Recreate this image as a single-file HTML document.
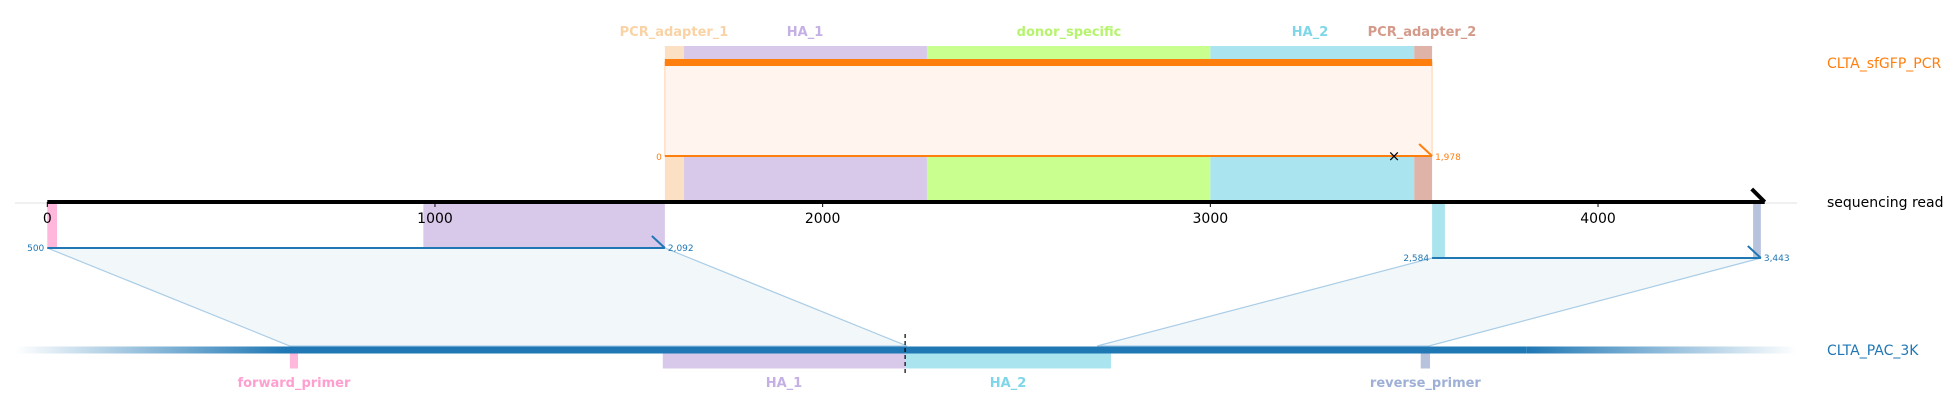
<!DOCTYPE html>
<html><head><meta charset="utf-8"><style>
html,body{margin:0;padding:0;background:#fff;}
svg{display:block;font-family:"DejaVu Sans","Liberation Sans",sans-serif;}
</style></head><body>
<svg id="chart" width="1953" height="415" viewBox="0 0 1953 415" xmlns="http://www.w3.org/2000/svg">
<defs>
<linearGradient id="fadeL" x1="0" x2="1" y1="0" y2="0"><stop offset="0" stop-color="#1f77b4" stop-opacity="0"/><stop offset="1" stop-color="#1f77b4" stop-opacity="1"/></linearGradient>
<linearGradient id="fadeR" x1="0" x2="1" y1="0" y2="0"><stop offset="0" stop-color="#1f77b4" stop-opacity="1"/><stop offset="1" stop-color="#1f77b4" stop-opacity="0"/></linearGradient>
</defs>
<g id="root"></g>
</svg>
<script>
// read axis data
const readTicks = [0, 1000, 2000, 3000, 4000];
const readLength = 4430;
// top PCR product features (read coords)
const topNames = ["PCR_adapter_1","HA_1","donor_specific","HA_2","PCR_adapter_2"];
const topStarts = [1593,1642,2269,3000,3526];
const topEnds = [1642,2269,3000,3526,3572];
const topFill = ["#fbe0c3","#d8c8ea","#c8ff8f","#aae5ef","#e0b3a8"];
const topText = ["#f9d3a5","#c5b0e5","#b6f46e","#7fd6e8","#d49a8a"];
const topLabelX = [674,805,1069,1310,1422];
const topAlignRead = [1593,3572];
const topAlignLabels = ["0","1,978"];
const mismatchPos = [3474];
// lower alignments (read coords -> ref coords)
const lowReadStart = [0,3572];
const lowReadEnd = [1593,4420];
const lowRefStart = [709,2791];
const lowRefEnd = [2301,3647];
const lowLabelsL = ["500","2,584"];
const lowLabelsR = ["2,092","3,443"];
// bands shown on read under alignments
const bandStart = [0,970,3572,4400];
const bandEnd = [25,1593,3605,4420];
const bandAlign = [0,0,1,1];
const bandFill = ["#ffb7dc","#d8c8ea","#aae5ef","#b7c2dc"];
// reference features
const refLength = 4596;
const refCut = [2296];
const refNames = ["forward_primer","HA_1","HA_2","reverse_primer"];
const refStarts = [709,1671,2296,3626];
const refEnds = [730,2296,2827,3650];
const refFill = ["#ffb7dc","#d8c8ea","#aae5ef","#b7c2dc"];
const refText = ["#ff9fd0","#c5b0e5","#7fd6e8","#9fb0d6"];

const S = 0.38768;
const x = v => 47.3 + v*S;
const rx = v => 15 + v*S;
const NS = "http://www.w3.org/2000/svg";
const root = document.getElementById('root');
function mk(tag, attrs, parent){const e=document.createElementNS(NS,tag);for(const k in attrs)e.setAttribute(k,attrs[k]);(parent||root).appendChild(e);return e;}
function txt(s, attrs){const e=mk('text',attrs);e.textContent=s;return e;}

const AX=202, TOPY=156, BARY=62;
let e=mk('line',{x1:15,x2:1797,y1:AX+1,y2:AX+1,stroke:'#e0e0e0','stroke-width':1});



e=mk('rect',{x:x(topAlignRead[0]),y:BARY,width:x(topAlignRead[1])-x(topAlignRead[0]),height:TOPY-BARY,fill:'#fff5ee',stroke:'#ffd2ae','stroke-width':1});


for(let i=0;i<topNames.length;i++){
  e=mk('rect',{x:x(topStarts[i]),y:46,width:x(topEnds[i])-x(topStarts[i]),height:14,fill:topFill[i]});
  
  
  e=mk('rect',{x:x(topStarts[i]),y:TOPY+1,width:x(topEnds[i])-x(topStarts[i]),height:AX-TOPY-1,fill:topFill[i]});
  
  
  e=txt(topNames[i],{x:topLabelX[i],y:36,'text-anchor':'middle','font-size':13,'font-weight':'bold',fill:topText[i]});
  
  
}
e=mk('rect',{x:x(topAlignRead[0]),y:BARY-3,width:x(topAlignRead[1])-x(topAlignRead[0]),height:7,fill:'#ff7f0e'});


e=mk('line',{x1:x(topAlignRead[0]),x2:x(topAlignRead[1]),y1:TOPY,y2:TOPY,stroke:'#ff7f0e','stroke-width':2});


e=mk('line',{x1:x(topAlignRead[1])-13,x2:x(topAlignRead[1]),y1:TOPY-12,y2:TOPY,stroke:'#ff7f0e','stroke-width':2});


e=txt(topAlignLabels[0],{x:x(topAlignRead[0])-3,y:TOPY+4,'text-anchor':'end','font-size':9,fill:'#ff7f0e'});


e=txt(topAlignLabels[1],{x:x(topAlignRead[1])+3,y:TOPY+4,'font-size':9,fill:'#ff7f0e'});


mismatchPos.forEach(p=>{
  e=txt('×',{x:x(p),y:TOPY+5,'text-anchor':'middle','font-size':15,fill:'#000'});
  
  
});

for(let i=0;i<lowReadStart.length;i++){
  const y=[248,258][i], by=346;
  e=mk('polygon',{points:`${x(lowReadStart[i])},${y} ${x(lowReadEnd[i])},${y} ${rx(lowRefEnd[i])},${by} ${rx(lowRefStart[i])},${by}`,fill:'#f2f7fa',stroke:'#aacde6','stroke-width':1.2});
  
  
}
for(let i=0;i<bandStart.length;i++){
  const y=[248,258][bandAlign[i]];
  e=mk('rect',{x:x(bandStart[i]),y:AX+1,width:x(bandEnd[i])-x(bandStart[i]),height:y-AX-1,fill:bandFill[i]});
  
  
}
for(let i=0;i<lowReadStart.length;i++){
  const y=[248,258][i];
  e=mk('line',{x1:x(lowReadStart[i]),x2:x(lowReadEnd[i]),y1:y,y2:y,stroke:'#1f77b4','stroke-width':2});
  
  
  e=mk('line',{x1:x(lowReadEnd[i])-13,x2:x(lowReadEnd[i]),y1:y-12,y2:y,stroke:'#1f77b4','stroke-width':2});
  
  
  e=txt(lowLabelsL[i],{x:x(lowReadStart[i])-3,y:y+3,'text-anchor':'end','font-size':9,fill:'#1f77b4'});
  
  
  e=txt(lowLabelsR[i],{x:x(lowReadEnd[i])+3,y:y+3,'font-size':9,fill:'#1f77b4'});
  
  
}

e=mk('line',{x1:x(0),x2:x(readLength),y1:AX,y2:AX,stroke:'#000','stroke-width':4});


e=mk('line',{x1:x(readLength)-13,x2:x(readLength),y1:AX-13,y2:AX,stroke:'#000','stroke-width':4});


readTicks.forEach(t=>{
  e=mk('line',{x1:x(t),x2:x(t),y1:AX,y2:AX+5,stroke:'#000','stroke-width':1});
  
  
  e=txt(String(t),{x:x(t),y:AX+21,'text-anchor':'middle','font-size':14,fill:'#000'});
  
  
});

const RY=350;
const fadeW=270;
e=mk('rect',{x:rx(0),y:RY-3.5,width:fadeW,height:7,fill:'url(#fadeL)'});


e=mk('rect',{x:rx(0)+fadeW,y:RY-3.5,width:rx(refLength)-rx(0)-2*fadeW,height:7,fill:'#1f77b4'});


e=mk('rect',{x:rx(refLength)-fadeW,y:RY-3.5,width:fadeW,height:7,fill:'url(#fadeR)'});


for(let i=0;i<refNames.length;i++){
  e=mk('rect',{x:rx(refStarts[i]),y:RY+3.5,width:rx(refEnds[i])-rx(refStarts[i]),height:15,fill:refFill[i]});
  
  
  e=txt(refNames[i],{x:(rx(refStarts[i])+rx(refEnds[i]))/2,y:387,'text-anchor':'middle','font-size':13,'font-weight':'bold',fill:refText[i]});
  
  
}
refCut.forEach(c=>{
  e=mk('line',{x1:rx(c),x2:rx(c),y1:334,y2:374,stroke:'#000','stroke-width':1.2,'stroke-dasharray':'4,3'});
  
  
});

e=txt('CLTA_sfGFP_PCR',{x:1827,y:68,'font-size':14,fill:'#ff7f0e'});


e=txt('sequencing read',{x:1827,y:207,'font-size':14,fill:'#000'});


e=txt('CLTA_PAC_3K',{x:1827,y:355,'font-size':14,fill:'#1f77b4'});


</script>
</body></html>
